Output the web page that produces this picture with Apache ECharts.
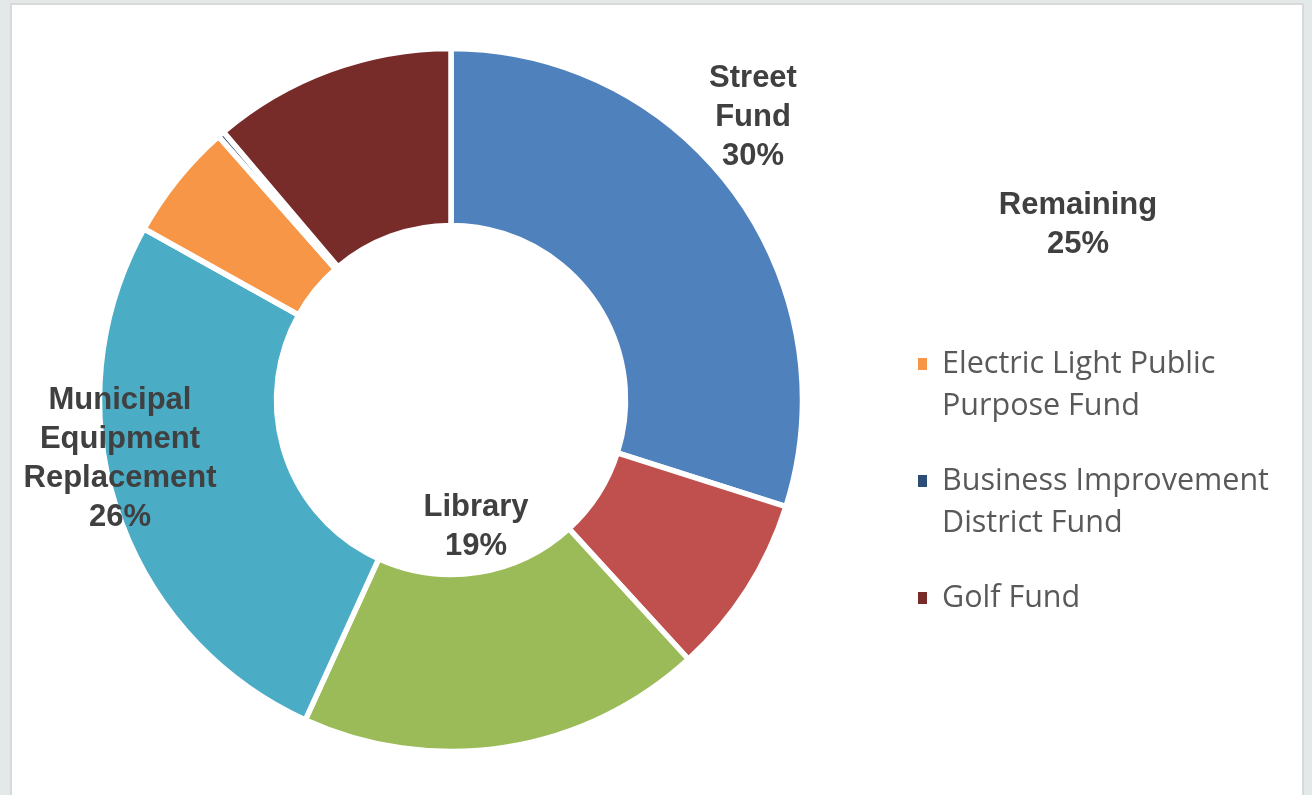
<!DOCTYPE html>
<html>
<head>
<meta charset="utf-8">
<script src="https://cdn.jsdelivr.net/npm/echarts@6/dist/echarts.min.js"></script>
<style>
  html, body { margin: 0; padding: 0; width: 1312px; height: 795px; background: #e3e8e8; overflow: hidden; }
  #frame { position: absolute; left: 10px; top: 3px; width: 1290px; height: 800px; background: #ffffff; border: 2px solid #d9d9d9; }
  #chart { position: absolute; left: 0; top: 0; width: 1312px; height: 795px; }
</style>
</head>
<body>
<div id="frame"></div>
<div id="chart"></div>
<script>
// ---- data ----
const categories = [
  'Street Fund',
  'Other Funds',
  'Library',
  'Municipal Equipment Replacement',
  'Electric Light Public Purpose Fund',
  'Business Improvement District Fund',
  'Golf Fund'
];
const values = [29.9, 8.3, 18.6, 26.3, 5.4, 0.3, 11.2];
const sliceLabels = ['Street\nFund', '', 'Library', 'Municipal\nEquipment\nReplacement', '', '', ''];
const remainingLabel = 'Remaining';
const legendNames = ['Electric Light Public Purpose Fund', 'Business Improvement District Fund', 'Golf Fund'];
const legendLines = [['Electric Light Public', 'Purpose Fund'], ['Business Improvement', 'District Fund'], ['Golf Fund']];
const colors = ['#4f81bd', '#c0504d', '#9bbb59', '#4bacc6', '#f79646', '#2c4d75', '#772c2a'];

const total = values.reduce((a, b) => a + b, 0);
let remainingSum = 0;
values.forEach((v, i) => { if (!sliceLabels[i]) remainingSum += v; });
const remainingPct = Math.round(remainingSum / total * 100);

const labelPos = {
  0: [753, 117],
  2: [476, 527],
  3: [120, 459]
};

const chart = echarts.init(document.getElementById('chart'), null, { renderer: 'canvas' });
const boldFamily = '"Liberation Sans", Arial, sans-serif';

// legend text: first line is aligned with the marker (block padded with blank lines)
function legendText(name) {
  const lines = legendLines[legendNames.indexOf(name)];
  const padded = [' '].concat(lines);
  while (padded.length < 3) padded.push(' ');
  return padded.join('\n');
}

chart.setOption({
  backgroundColor: 'transparent',
  animation: false,
  legend: {
    orient: 'vertical',
    left: 916,
    top: 301,
    padding: 0,
    itemGap: -9,
    itemWidth: 11,
    itemHeight: 14,
    icon: 'rect',
    selectedMode: false,
    textStyle: { fontFamily: '"Open Sans", sans-serif', fontSize: 30.5, lineHeight: 42, color: '#595959', padding: [0, 0, 0, 9] },
    formatter: legendText,
    data: legendNames
  },
  graphic: [{
    type: 'text',
    x: 1078,
    y: 225,
    style: {
      text: remainingLabel + '\n' + remainingPct + '%',
      fontFamily: boldFamily,
      fontWeight: 'bold',
      fontSize: 31,
      lineHeight: 39,
      fill: '#404040',
      align: 'center',
      verticalAlign: 'middle'
    }
  }],
  series: [{
    type: 'pie',
    center: [451, 400],
    radius: [174.5, 351.5],
    startAngle: 90,
    clockwise: true,
    avoidLabelOverlap: false,
    emphasis: { disabled: true },
    itemStyle: { borderColor: '#ffffff', borderWidth: 5.5 },
    labelLine: { show: false },
    label: {
      position: 'inside',
      formatter: function (p) { return sliceLabels[p.dataIndex] + '\n' + Math.round(p.percent) + '%'; },
      fontFamily: boldFamily,
      fontWeight: 'bold',
      fontSize: 31,
      lineHeight: 39,
      color: '#404040',
      align: 'center'
    },
    labelLayout: function (params) {
      const p = labelPos[params.dataIndex];
      if (!p) return {};
      return { x: p[0], y: p[1], align: 'center', verticalAlign: 'middle' };
    },
    data: categories.map(function (c, i) {
      return {
        name: c,
        value: values[i],
        itemStyle: { color: colors[i] },
        label: { show: !!sliceLabels[i] }
      };
    })
  }]
});
</script>
</body>
</html>
